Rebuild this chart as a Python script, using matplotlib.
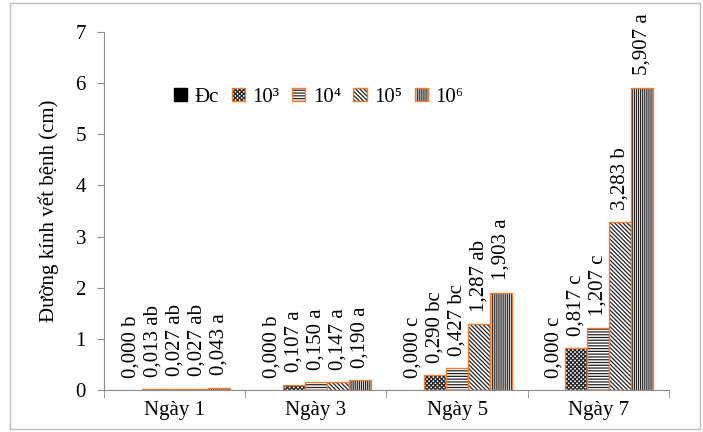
import numpy as np
import matplotlib
matplotlib.use('Agg')
import matplotlib.pyplot as plt
from matplotlib.patches import Rectangle, Patch
from matplotlib import font_manager

fam = 'DejaVu Serif'
for f in ['Times New Roman', 'Liberation Serif', 'Nimbus Roman']:
    try:
        font_manager.findfont(f, fallback_to_default=False)
        fam = f
        break
    except Exception:
        pass
plt.rcParams['font.family'] = [fam, 'DejaVu Serif']
plt.rcParams['hatch.linewidth'] = 0.9

# data
days = ['Ngày 1', 'Ngày 3', 'Ngày 5', 'Ngày 7']
series = ['Đc', '10³', '10⁴', '10⁵', '10⁶']
dc = [0.000, 0.000, 0.000, 0.000]
v3 = [0.013, 0.107, 0.290, 0.817]
v4 = [0.027, 0.150, 0.427, 1.207]
v5 = [0.027, 0.147, 1.287, 3.283]
v6 = [0.043, 0.190, 1.903, 5.907]
dc_lbl = ['b', 'b', 'c', 'c']
v3_lbl = ['ab', 'a', 'bc', 'c']
v4_lbl = ['ab', 'a', 'bc', 'c']
v5_lbl = ['ab', 'a', 'ab', 'b']
v6_lbl = ['a', 'a', 'a', 'a']

values = [dc, v3, v4, v5, v6]
letters = [dc_lbl, v3_lbl, v4_lbl, v5_lbl, v6_lbl]
hatches = [None, 'xxxxxxxx', '------', '\\' * 8, '|' * 8]
orange = '#ED7D31'

fig = plt.figure(figsize=(7.03, 4.32), dpi=100)
ax = fig.add_axes([104/703, 42/432, 565/703, 358/432])

# outer frame
fig.patches.append(Rectangle((10/703, 3/432), 690/703, 426/432, transform=fig.transFigure,
                             fill=False, edgecolor='#bdbdbd', linewidth=1.0))

x = np.arange(len(days))
w = 0.156
for i, (vals, lets) in enumerate(zip(values, letters)):
    pos = x + (i - 2) * w
    if i == 0:
        ax.bar(pos, vals, w, color='black', edgecolor='black', linewidth=0)
    else:
        ax.bar(pos, vals, w, color='white', edgecolor='#222222', hatch=hatches[i], linewidth=0)
        ax.bar(pos, vals, w, color='none', edgecolor=orange, linewidth=1.0)
    for p, v, l in zip(pos, vals, lets):
        txt = ('%.3f' % v).replace('.', ',') + ' ' + l
        ax.annotate(txt, (p, v), xytext=(0, 9), textcoords='offset points',
                    rotation=90, ha='center', va='bottom', fontsize=15)

ax.set_xlim(-0.5, 3.5)
ax.set_ylim(0, 7)
ax.set_yticks(range(0, 8))
ax.set_xticks(x)
ax.set_xticklabels(days)
ax.set_xticks(np.arange(-0.5, 4, 1), minor=True)
ax.tick_params(axis='x', which='major', length=0, labelsize=15, pad=8)
ax.tick_params(axis='x', which='minor', length=6, color='#8c8c8c')
ax.tick_params(axis='y', length=5, color='#8c8c8c', labelsize=15, pad=8)
for s in ['top', 'right']:
    ax.spines[s].set_visible(False)
for s in ['left', 'bottom']:
    ax.spines[s].set_color('#8c8c8c')
ax.set_ylabel('Đường kính vết bệnh (cm)', fontsize=15, labelpad=12)

handles = [Patch(facecolor='black', edgecolor='black')]
for i in range(1, 5):
    inner = Patch(facecolor='white', edgecolor='#222222', hatch=hatches[i], linewidth=0)
    outer = Patch(facecolor='none', edgecolor=orange, linewidth=1.0)
    handles.append((inner, outer))
leg = ax.legend(handles, series, loc='center', bbox_to_anchor=(0.38, 0.818), ncol=5,
                frameon=False, fontsize=15, handlelength=0.65, handleheight=0.65,
                handletextpad=0.35, columnspacing=0.6)

fig.savefig('out.png', dpi=100)
